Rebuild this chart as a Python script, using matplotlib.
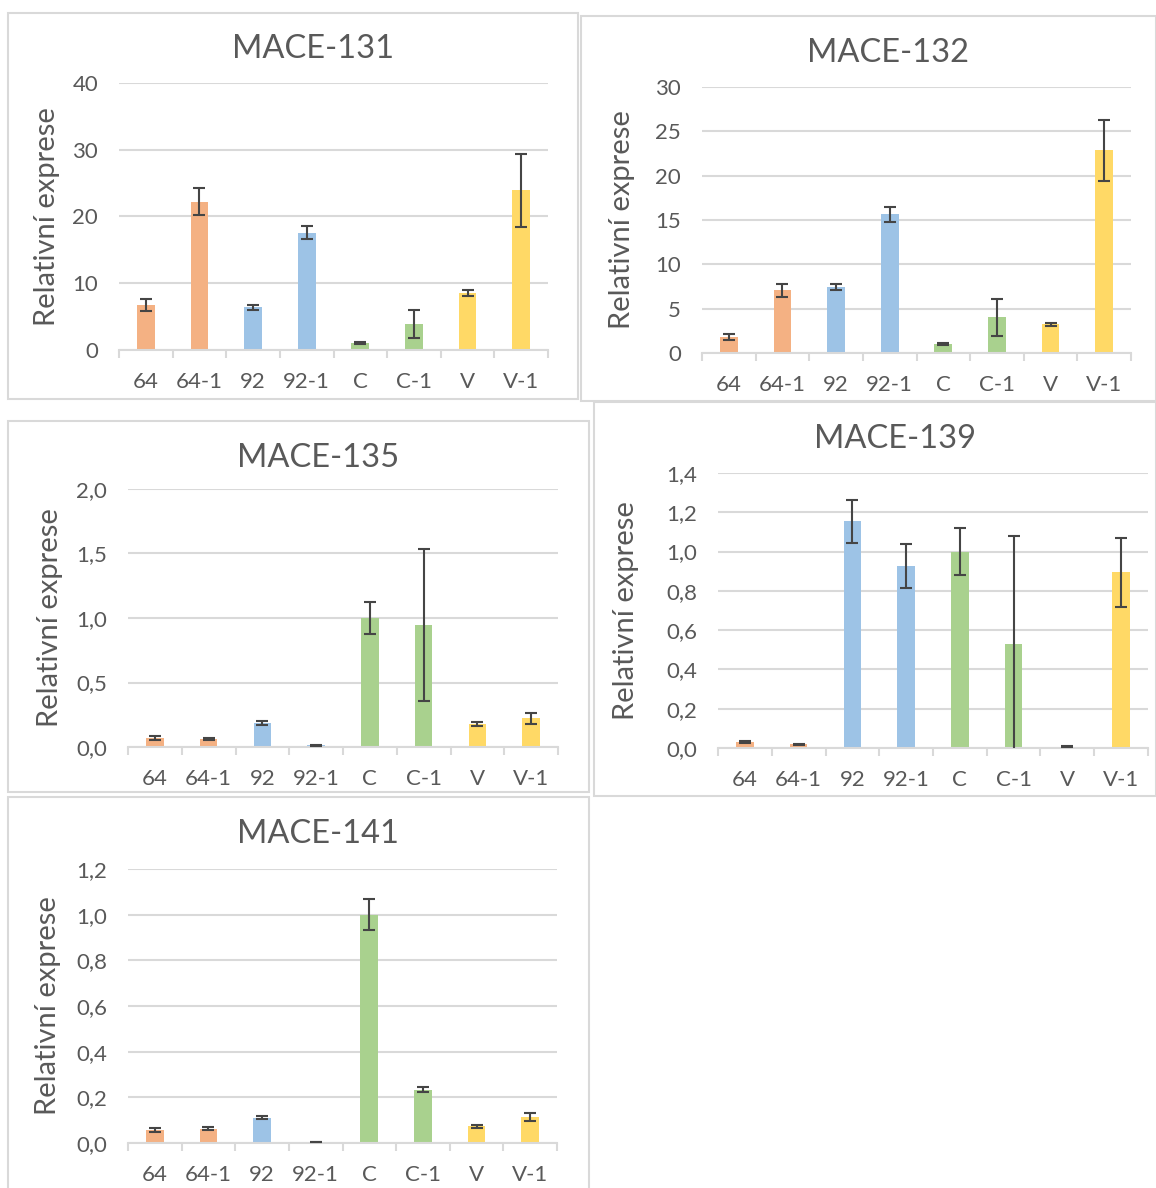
import matplotlib
matplotlib.use('Agg')
import matplotlib.pyplot as plt
from matplotlib.patches import Rectangle
from matplotlib.ticker import FuncFormatter, FixedLocator
import numpy as np

plt.rcParams['font.family'] = ['Lato', 'DejaVu Sans']

W, H = 1156, 1188

categories = ['64', '64-1', '92', '92-1', 'C', 'C-1', 'V', 'V-1']
bar_colors = ['#F4B183', '#F4B183', '#9DC3E6', '#9DC3E6',
              '#A9D18E', '#A9D18E', '#FFD966', '#FFD966']

mace131 = [6.7, 22.2, 6.4, 17.6, 1.0, 3.85, 8.5, 23.9]
mace131_err = [0.9, 2.0, 0.37, 1.0, 0.17, 2.1, 0.43, 5.4]

mace132 = [1.8, 7.05, 7.44, 15.64, 1.0, 4.02, 3.23, 22.86]
mace132_err = [0.3, 0.68, 0.32, 0.87, 0.08, 2.12, 0.19, 3.47]

mace135 = [0.07, 0.062, 0.183, 0.013, 1.0, 0.948, 0.176, 0.222]
mace135_err = [0.015, 0.005, 0.016, 0.003, 0.124, 0.59, 0.014, 0.045]

mace139 = [0.031, 0.019, 1.154, 0.929, 1.0, 0.532, 0.007, 0.894]
mace139_err = [0.006, 0.003, 0.11, 0.112, 0.118, 0.545, 0.001, 0.175]

mace141 = [0.057, 0.063, 0.111, 0.004, 1.0, 0.234, 0.074, 0.114]
mace141_err = [0.008, 0.008, 0.006, 0.001, 0.069, 0.012, 0.007, 0.017]

# (title, values, errors, ymax, ystep, decimals,
#  box px (x0, y0, x1, y1), plot px (x0, y0, x1, y1), title y, ylabel x)
panels = [
    ('MACE-131', mace131, mace131_err, 40, 10, 0,
     (8, 13, 578, 399), (119, 83, 548, 350), 49, 47),
    ('MACE-132', mace132, mace132_err, 30, 5, 0,
     (581, 16, 1156, 401), (702, 87, 1131, 353), 53, 622),
    ('MACE-135', mace135, mace135_err, 2.0, 0.5, 1,
     (8, 421, 589, 792), (128, 489, 558, 747), 458, 50),
    ('MACE-139', mace139, mace139_err, 1.4, 0.2, 1,
     (594, 402, 1156, 796), (718, 473, 1148, 748), 439, 626),
    ('MACE-141', mace141, mace141_err, 1.2, 0.2, 1,
     (8, 797, 589, 1192), (128, 869, 557, 1143), 834, 48),
]

grid_c = '#D9D9D9'
text_c = '#595959'

fig = plt.figure(figsize=(W / 100, H / 100), dpi=100)
fig.patch.set_facecolor('white')


def fx(px):
    return px / W


def fy(py):
    return 1 - py / H


for (title, vals, errs, ymax, ystep, dec, box, plot, ty, lx) in panels:
    bx0, by0, bx1, by1 = box
    fig.patches.append(Rectangle((fx(bx0), fy(by1)), fx(bx1 - bx0), (by1 - by0) / H,
                                 transform=fig.transFigure, fill=False,
                                 edgecolor=grid_c, linewidth=1.5, zorder=0))
    px0, py0, px1, py1 = plot
    ax = fig.add_axes([fx(px0), fy(py1), fx(px1 - px0), (py1 - py0) / H])
    x = np.arange(len(categories))
    ax.bar(x, vals, width=0.33, color=bar_colors, zorder=2)
    ax.errorbar(x, vals, yerr=errs, fmt='none', ecolor='#454545',
                elinewidth=1.5, capsize=4.5, capthick=1.5, zorder=3)

    ax.set_xlim(-0.5, len(categories) - 0.5)
    ax.set_ylim(0, ymax)
    ax.set_yticks(np.arange(0, ymax + ystep / 2, ystep))
    ax.yaxis.set_major_formatter(
        FuncFormatter(lambda v, p, d=dec: f'{v:.{d}f}'.replace('.', ',')))
    ax.grid(axis='y', color=grid_c, linewidth=1.5, zorder=0)
    ax.set_axisbelow(True)

    for s in ['top', 'right', 'left']:
        ax.spines[s].set_visible(False)
    ax.spines['bottom'].set_color(grid_c)
    ax.spines['bottom'].set_linewidth(1.5)

    ax.set_xticks(x)
    ax.set_xticklabels(categories)
    ax.xaxis.set_minor_locator(FixedLocator(np.arange(-0.5, len(categories), 1.0)))
    ax.tick_params(axis='x', which='major', length=0, pad=16,
                   labelsize=16, labelcolor=text_c)
    ax.tick_params(axis='x', which='minor', length=6, width=1.5, color=grid_c)
    ax.tick_params(axis='y', length=0, pad=15, labelsize=16, labelcolor=text_c)

    fig.text(fx((bx0 + bx1) / 2 + 20), fy(ty), title, ha='center', va='center',
             fontsize=23.5, color=text_c)
    fig.text(fx(lx), fy((py0 + py1) / 2), 'Relativní exprese', rotation=90,
             ha='center', va='center', fontsize=21, color=text_c)

fig.savefig('out.png', dpi=100)
